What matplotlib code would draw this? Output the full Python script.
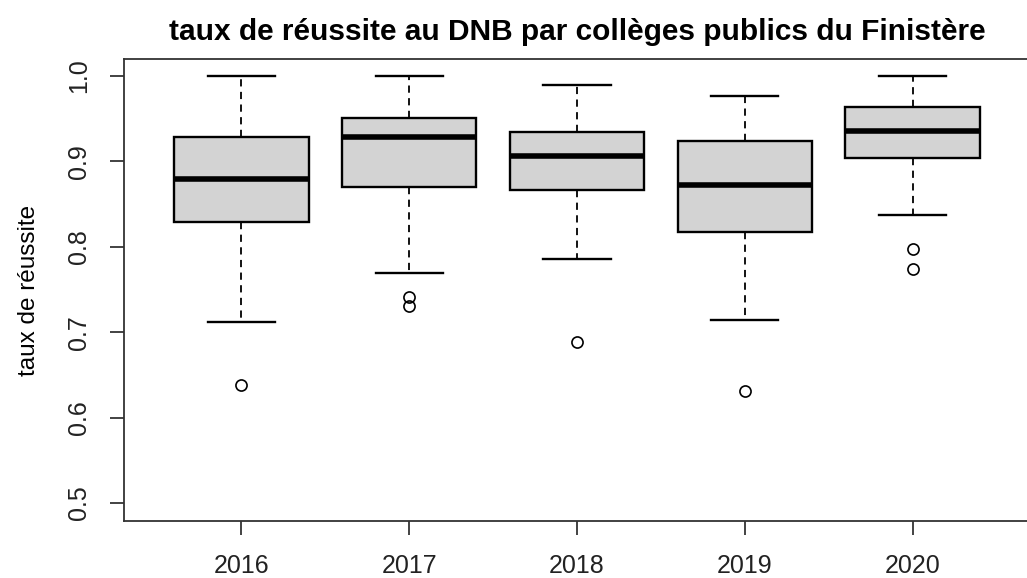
import matplotlib.pyplot as plt

plt.rcParams['font.family'] = ['Liberation Sans', 'DejaVu Sans']

# box statistics
years = ["2016", "2017", "2018", "2019", "2020"]
whisker_low = [0.712, 0.769, 0.786, 0.714, 0.837]
q1 = [0.829, 0.870, 0.867, 0.817, 0.904]
median = [0.879, 0.929, 0.906, 0.872, 0.936]
q3 = [0.929, 0.951, 0.935, 0.924, 0.964]
whisker_high = [1.000, 1.000, 0.989, 0.977, 1.000]
outliers = [[0.638], [0.741, 0.731], [0.689], [0.631], [0.797, 0.774]]

stats = []
for i in range(len(years)):
    stats.append({
        "label": years[i],
        "whislo": whisker_low[i],
        "q1": q1[i],
        "med": median[i],
        "q3": q3[i],
        "whishi": whisker_high[i],
        "fliers": outliers[i],
    })

fig = plt.figure(figsize=(10.27, 5.78), dpi=100)
ax = fig.add_axes([124 / 1027, 57 / 578, (1030 - 124) / 1027, (521 - 59) / 578])

ax.bxp(
    stats,
    positions=range(1, len(years) + 1),
    widths=0.8,
    patch_artist=True,
    showfliers=True,
    boxprops=dict(facecolor="#d3d3d3", edgecolor="black", linewidth=1.7),
    medianprops=dict(color="black", linewidth=4, solid_capstyle="butt"),
    whiskerprops=dict(color="black", linewidth=1.3, linestyle=(0, (4, 3))),
    capprops=dict(color="black", linewidth=1.7),
    capwidths=0.4,
    flierprops=dict(marker="o", markerfacecolor="none", markeredgecolor="black",
                    markersize=8, markeredgewidth=1.2),
)

ax.set_xlim(0.3, 5.7)
ax.set_ylim(0.5 - 18 / 854, 1.0 + 17 / 854)
ax.set_yticks([0.5, 0.6, 0.7, 0.8, 0.9, 1.0])
ax.set_yticklabels(["0.5", "0.6", "0.7", "0.8", "0.9", "1.0"], rotation=90, va="center")
ax.tick_params(axis="both", labelsize=18, length=10, width=1.2, colors="#222222")
ax.tick_params(axis="x", pad=14)
ax.tick_params(axis="y", pad=14)
for sp in ax.spines.values():
    sp.set_linewidth(1.3)
    sp.set_color("#333333")

ax.set_ylabel("taux de réussite", fontsize=17.5, labelpad=19)
ax.set_title("taux de réussite au DNB par collèges publics du Finistère",
             fontsize=21.5, fontweight="bold", pad=14, x=(577 - 124) / (1030 - 124))

fig.savefig("out.png", dpi=100)
